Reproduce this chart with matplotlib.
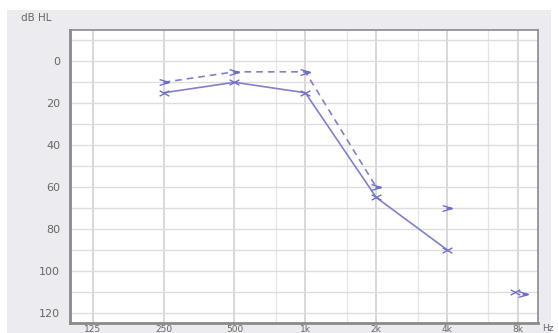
import matplotlib
matplotlib.use("Agg")
import matplotlib.pyplot as plt
from matplotlib.path import Path
from matplotlib.transforms import offset_copy

# Audiogram thresholds (dB HL)
freqs_ac = [250, 500, 1000, 2000, 4000]
ac_db = [15, 10, 15, 65, 90]
freqs_bc = [250, 500, 1000, 2000]
bc_db = [10, 5, 5, 60]
# isolated symbols not joined to the curves
iso_ac_freq = [8000]
iso_ac_db = [110]
iso_bc_freq = [4000, 8000]
iso_bc_db = [70, 110]

tick_freqs = [125, 250, 500, 1000, 2000, 4000, 8000]
tick_labels = ["125", "250", "500", "1k", "2k", "4k", "8k"]
minor_freqs = [750, 1500, 3000, 6000]
y_ticks = [0, 20, 40, 60, 80, 100, 120]

line_col = "#8080d0"
mk_col = "#7070c8"
txt_col = "#666666"

# stretched cross and open right-pointing chevron
cross = Path([(-1, -0.55), (1, 0.55), (-1, 0.55), (1, -0.55)],
             [Path.MOVETO, Path.LINETO, Path.MOVETO, Path.LINETO])
chevron = Path([(-1, 0.6), (1, 0), (-1, -0.6), (-0.2, 0), (1, 0)],
               [Path.MOVETO, Path.LINETO, Path.LINETO, Path.MOVETO, Path.LINETO])

fig = plt.figure(figsize=(5.58, 3.33), dpi=100, facecolor="white")
# grey panel behind the plot
fig.patches.append(plt.Rectangle((0.012, 0.0), 0.975, 0.97, transform=fig.transFigure,
                                 facecolor="#ececf0", edgecolor="none", zorder=-10))
ax = fig.add_axes([0.1254, 0.03, 0.8386, 0.88])
ax.set_facecolor("white")
ax.set_xscale("log", base=2)
ax.set_xlim(100, 9730)
ax.set_ylim(125, -15)

for f in tick_freqs:
    ax.axvline(f, color="#d6d6d6", lw=1.3, zorder=1)
for f in minor_freqs:
    ax.axvline(f, color="#e6e6e6", lw=1.0, zorder=1)
for d in range(-10, 125, 10):
    ax.axhline(d, color="#dddddd", lw=1.0, zorder=1)

ax.plot(freqs_ac, ac_db, color=line_col, lw=1.2, zorder=3)
ax.plot(freqs_ac, ac_db, ls="none", marker=cross, ms=7, mew=1.0,
        mec=mk_col, mfc="none", zorder=4)
ax.plot(freqs_bc, bc_db, color=line_col, lw=1.2, ls=(0, (4, 3)), zorder=3)
ax.plot(freqs_bc, bc_db, ls="none", marker=chevron, ms=7, mew=1.0,
        mec=mk_col, mfc="none", zorder=4)

t_left = offset_copy(ax.transData, fig=fig, x=-3, y=0, units="dots")
t_right = offset_copy(ax.transData, fig=fig, x=5, y=-2, units="dots")
ax.plot(iso_ac_freq, iso_ac_db, ls="none", marker=cross, ms=7, mew=1.0,
        mec=mk_col, mfc="none", zorder=4, transform=t_left)
ax.plot(iso_bc_freq[:1], iso_bc_db[:1], ls="none", marker=chevron, ms=7, mew=1.0,
        mec=mk_col, mfc="none", zorder=4)
ax.plot(iso_bc_freq[1:], iso_bc_db[1:], ls="none", marker=chevron, ms=7, mew=1.0,
        mec=mk_col, mfc="none", zorder=4, transform=t_right)

ax.set_xticks(tick_freqs)
ax.set_xticklabels(tick_labels)
ax.xaxis.set_minor_locator(matplotlib.ticker.NullLocator())
ax.set_yticks(y_ticks)
ax.tick_params(axis="both", length=0, colors=txt_col)
ax.tick_params(axis="x", pad=1.5, labelsize=6.5)
ax.tick_params(axis="y", pad=7, labelsize=8)

for s in ax.spines.values():
    s.set_color("#8a8a8a")
    s.set_linewidth(1.2)
ax.spines["left"].set_linewidth(2.0)
ax.spines["bottom"].set_linewidth(2.0)

fig.text(0.038, 0.947, "dB HL", fontsize=7.5, color=txt_col, va="center")
fig.text(0.972, 0.0, "Hz", fontsize=6.5, color=txt_col, va="bottom")

fig.savefig("out.png", dpi=100, facecolor="white")
